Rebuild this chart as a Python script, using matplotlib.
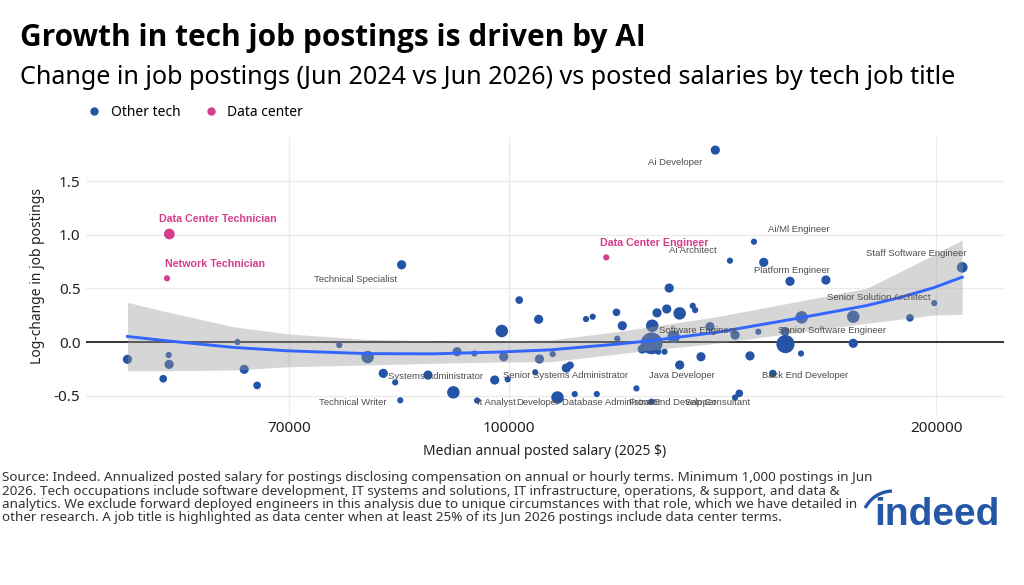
import matplotlib.pyplot as plt
from matplotlib.lines import Line2D
from matplotlib.path import Path
from matplotlib.patches import PathPatch

# job titles: median salary (2025 $), log-change in postings, postings (thousands, estimated)
salary = [53860, 57590, 57630, 57080, 64390, 65090, 66470, 75940, 79520, 81560,
          83150, 83840, 84020, 87700, 91380, 91930, 94560, 94970, 97720, 98840,
          99150, 99800, 101680, 104350, 104930, 105070, 107350, 108190, 109750, 110410,
          111260, 113310, 114550, 115310, 119050, 119210, 120180, 122970, 124140,
          126040, 126160, 126040, 127140, 127400, 128700, 129160, 129680, 130620, 131900,
          131900, 134720, 135250, 136540, 138540, 139750, 143110, 144300, 144300, 145300,
          147830, 148790, 149850, 151170, 153410, 156480, 156590, 157750, 160580, 160760,
          167210, 174790, 174790, 191620, 199320, 208570]
log_change = [-0.161, -0.121, -0.208, -0.342, 0.0, -0.254, -0.404, -0.028, -0.14, -0.292,
              -0.376, -0.543, 0.72, -0.308, -0.469, -0.09, -0.107, -0.545, -0.354, 0.103,
              -0.137, -0.348, 0.391, -0.282, 0.212, -0.158, -0.112, -0.517, -0.242, -0.217,
              -0.485, 0.214, 0.236, -0.485, 0.277, 0.031, 0.152, -0.432, -0.065,
              -0.556, 0.152, -0.012, 0.272, -0.09, -0.09, 0.308, 0.503, 0.049, 0.267,
              -0.214, 0.338, 0.298, -0.137, 0.143, 1.789, 0.758, 0.065, -0.517, -0.478,
              -0.129, 0.935, 0.096, 0.743, -0.294, 0.098, -0.019, 0.566, -0.107, 0.23,
              0.578, 0.236, -0.012, 0.226, 0.363, 0.696]
postings = [6, 1.5, 6, 3.5, 1.5, 6, 3.5, 1.5, 13, 6,
            1.5, 1.5, 6, 6, 13, 6, 1.5, 1.5, 6, 13,
            6, 1.5, 3.5, 1.5, 6, 6, 1.5, 13, 6, 3.5,
            1.5, 1.5, 1.5, 1.5, 3.5, 1.5, 6, 1.5, 6,
            1.5, 13, 44, 6, 1.5, 1.5, 6, 6, 13, 13,
            6, 1.5, 1.5, 6, 6, 6, 1.5, 6, 1.5, 3.5,
            6, 1.5, 1.5, 6, 3.5, 6, 30, 6, 1.5, 13,
            6, 13, 6, 3.5, 1.5, 9]

# data center titles
dc_salary = [117090, 57650, 57430]
dc_change = [0.789, 1.007, 0.594]
dc_postings = [1.5, 9, 1.5]

# smoothed trend and its confidence band
fit_salary = [53860, 57390, 63940, 69930, 79400, 88450, 98550, 106870, 119080,
              125680, 140050, 160310, 178630, 188570, 199000, 208570]
fit_y = [0.052, 0.012, -0.05, -0.082, -0.108, -0.11, -0.093, -0.073, -0.02,
         0.012, 0.09, 0.225, 0.34, 0.415, 0.505, 0.605]
fit_lo = [-0.267, -0.267, -0.261, -0.23, -0.214, -0.198, -0.186, -0.184, -0.112,
          -0.075, -0.012, 0.093, 0.175, 0.212, 0.252, 0.258]
fit_hi = [0.37, 0.282, 0.143, 0.075, 0.025, 0.012, 0.014, 0.019, 0.096,
          0.143, 0.236, 0.382, 0.5, 0.655, 0.811, 0.951]

# text labels (name, salary, y)
labels = [("Technical Specialist", 77940, 0.587), ("Systems Administrator", 88740, -0.317),
          ("Technical Writer", 77680, -0.559), ("It Analyst", 98070, -0.562),
          ("Developer", 104810, -0.562), ("Database Administrator", 118180, -0.562),
          ("Front End Developer", 130470, -0.562), ("Sap Consultant", 140320, -0.562),
          ("Senior Systems Administrator", 109680, -0.308), ("Java Developer", 132400, -0.311),
          ("Software Engineer", 135870, 0.112), ("Back End Developer", 161600, -0.314),
          ("Senior Software Engineer", 168830, 0.105), ("Senior Solution Architect", 182130, 0.417),
          ("Staff Software Engineer", 193500, 0.826), ("Platform Engineer", 158160, 0.664),
          ("Ai/Ml Engineer", 159990, 1.053), ("Ai Architect", 134750, 0.857),
          ("Ai Developer", 130960, 1.675)]
dc_labels = [("Data Center Technician", 62350, 1.143), ("Network Technician", 62080, 0.724),
             ("Data Center Engineer", 126590, 0.921)]

BLUE = "#2454A6"
PINK = "#D43F8D"
plt.rcParams['font.family'] = ['Noto Sans', 'DejaVu Sans']


def area(p):
    return [12 + 5.3 * v for v in p]


fig = plt.figure(figsize=(10.24, 5.85), dpi=100)
ax = fig.add_axes([86 / 1024, 1 - 415 / 585, 918 / 1024, 278 / 585])

ax.axhline(0, color="black", lw=1.1, zorder=1.5)
ax.scatter(salary, log_change, s=area(postings), color=BLUE, linewidths=0, zorder=2)
ax.scatter(dc_salary, dc_change, s=area(dc_postings), color=PINK, linewidths=0, zorder=2)
ax.fill_between(fit_salary, fit_lo, fit_hi, color="#999999", alpha=0.4, linewidth=0, zorder=3)
ax.plot(fit_salary, fit_y, color="#3366FF", lw=2.1, zorder=4)

for name, x, y in labels:
    ax.text(x, y, name, ha="center", va="center", fontsize=6.8, color="#4d4d4d",
            family="Liberation Sans", zorder=5)
for name, x, y in dc_labels:
    ax.text(x, y, name, ha="center", va="center", fontsize=7.7, color=PINK,
            family="Liberation Sans", fontweight="bold", zorder=5)

ax.set_xscale("log")
ax.set_xlim(50360, 223200)
ax.set_ylim(-0.68, 1.911)
ax.set_xticks([70000, 100000, 200000])
ax.set_xticklabels(["70000", "100000", "200000"])
ax.minorticks_off()
ax.set_yticks([-0.5, 0.0, 0.5, 1.0, 1.5])
ax.set_yticklabels(["-0.5", "0.0", "0.5", "1.0", "1.5"])
ax.grid(True, color="#ebebeb", lw=1)
ax.set_axisbelow(True)
for sp in ax.spines.values():
    sp.set_visible(False)
ax.tick_params(length=0, labelsize=11, colors="#222222", pad=4)
ax.set_xlabel("Median annual posted salary (2025 $)", fontsize=10, color="#222222", labelpad=6)
ax.set_ylabel("Log-change in job postings", fontsize=10, color="#222222", labelpad=6)

fig.text(20 / 1024, 1 - 38 / 585, "Growth in tech job postings is driven by AI",
         fontsize=21.5, fontweight="bold", family=["Open Sans", "DejaVu Sans"],
         va="center", ha="left")
fig.text(20 / 1024, 1 - 77 / 585,
         "Change in job postings (Jun 2024 vs Jun 2026) vs posted salaries by tech job title",
         fontsize=18.1, va="center", ha="left")

handles = [Line2D([], [], marker="o", ls="", color=BLUE, markersize=5, label="Other tech"),
           Line2D([], [], marker="o", ls="", color=PINK, markersize=5, label="Data center")]
fig.legend(handles=handles, loc="center left", bbox_to_anchor=(80 / 1024, 1 - 112 / 585),
           ncol=2, frameon=False, fontsize=10, handlelength=1.2, handletextpad=0.6,
           columnspacing=1.6, borderaxespad=0)

caption = ("Source: Indeed. Annualized posted salary for postings disclosing compensation on annual or hourly terms. Minimum 1,000 postings in Jun\n"
           "2026. Tech occupations include software development, IT systems and solutions, IT infrastructure, operations, & support, and data &\n"
           "analytics. We exclude forward deployed engineers in this analysis due to unique circumstances with that role, which we have detailed in\n"
           "other research. A job title is highlighted as data center when at least 25% of its Jun 2026 postings include data center terms.")
fig.text(2 / 1024, 1 - 471 / 585, caption, fontsize=9.7, color="#333333", va="top", ha="left",
         linespacing=1.05)

# indeed logo
lax = fig.add_axes([860 / 1024, 1 - 532 / 585, 140 / 1024, 45 / 585])
lax.set_xlim(0, 140)
lax.set_ylim(0, 45)
lax.axis("off")
lax.text(14, 7, "indeed", fontsize=28, fontweight="bold", color="#2557A7",
         family="Liberation Sans", va="baseline", ha="left")
arc = Path([(5, 24), (14, 40), (32, 41)], [Path.MOVETO, Path.CURVE3, Path.CURVE3])
lax.add_patch(PathPatch(arc, fill=False, edgecolor="#2557A7", lw=2.4))

fig.savefig("out.png", dpi=100)
